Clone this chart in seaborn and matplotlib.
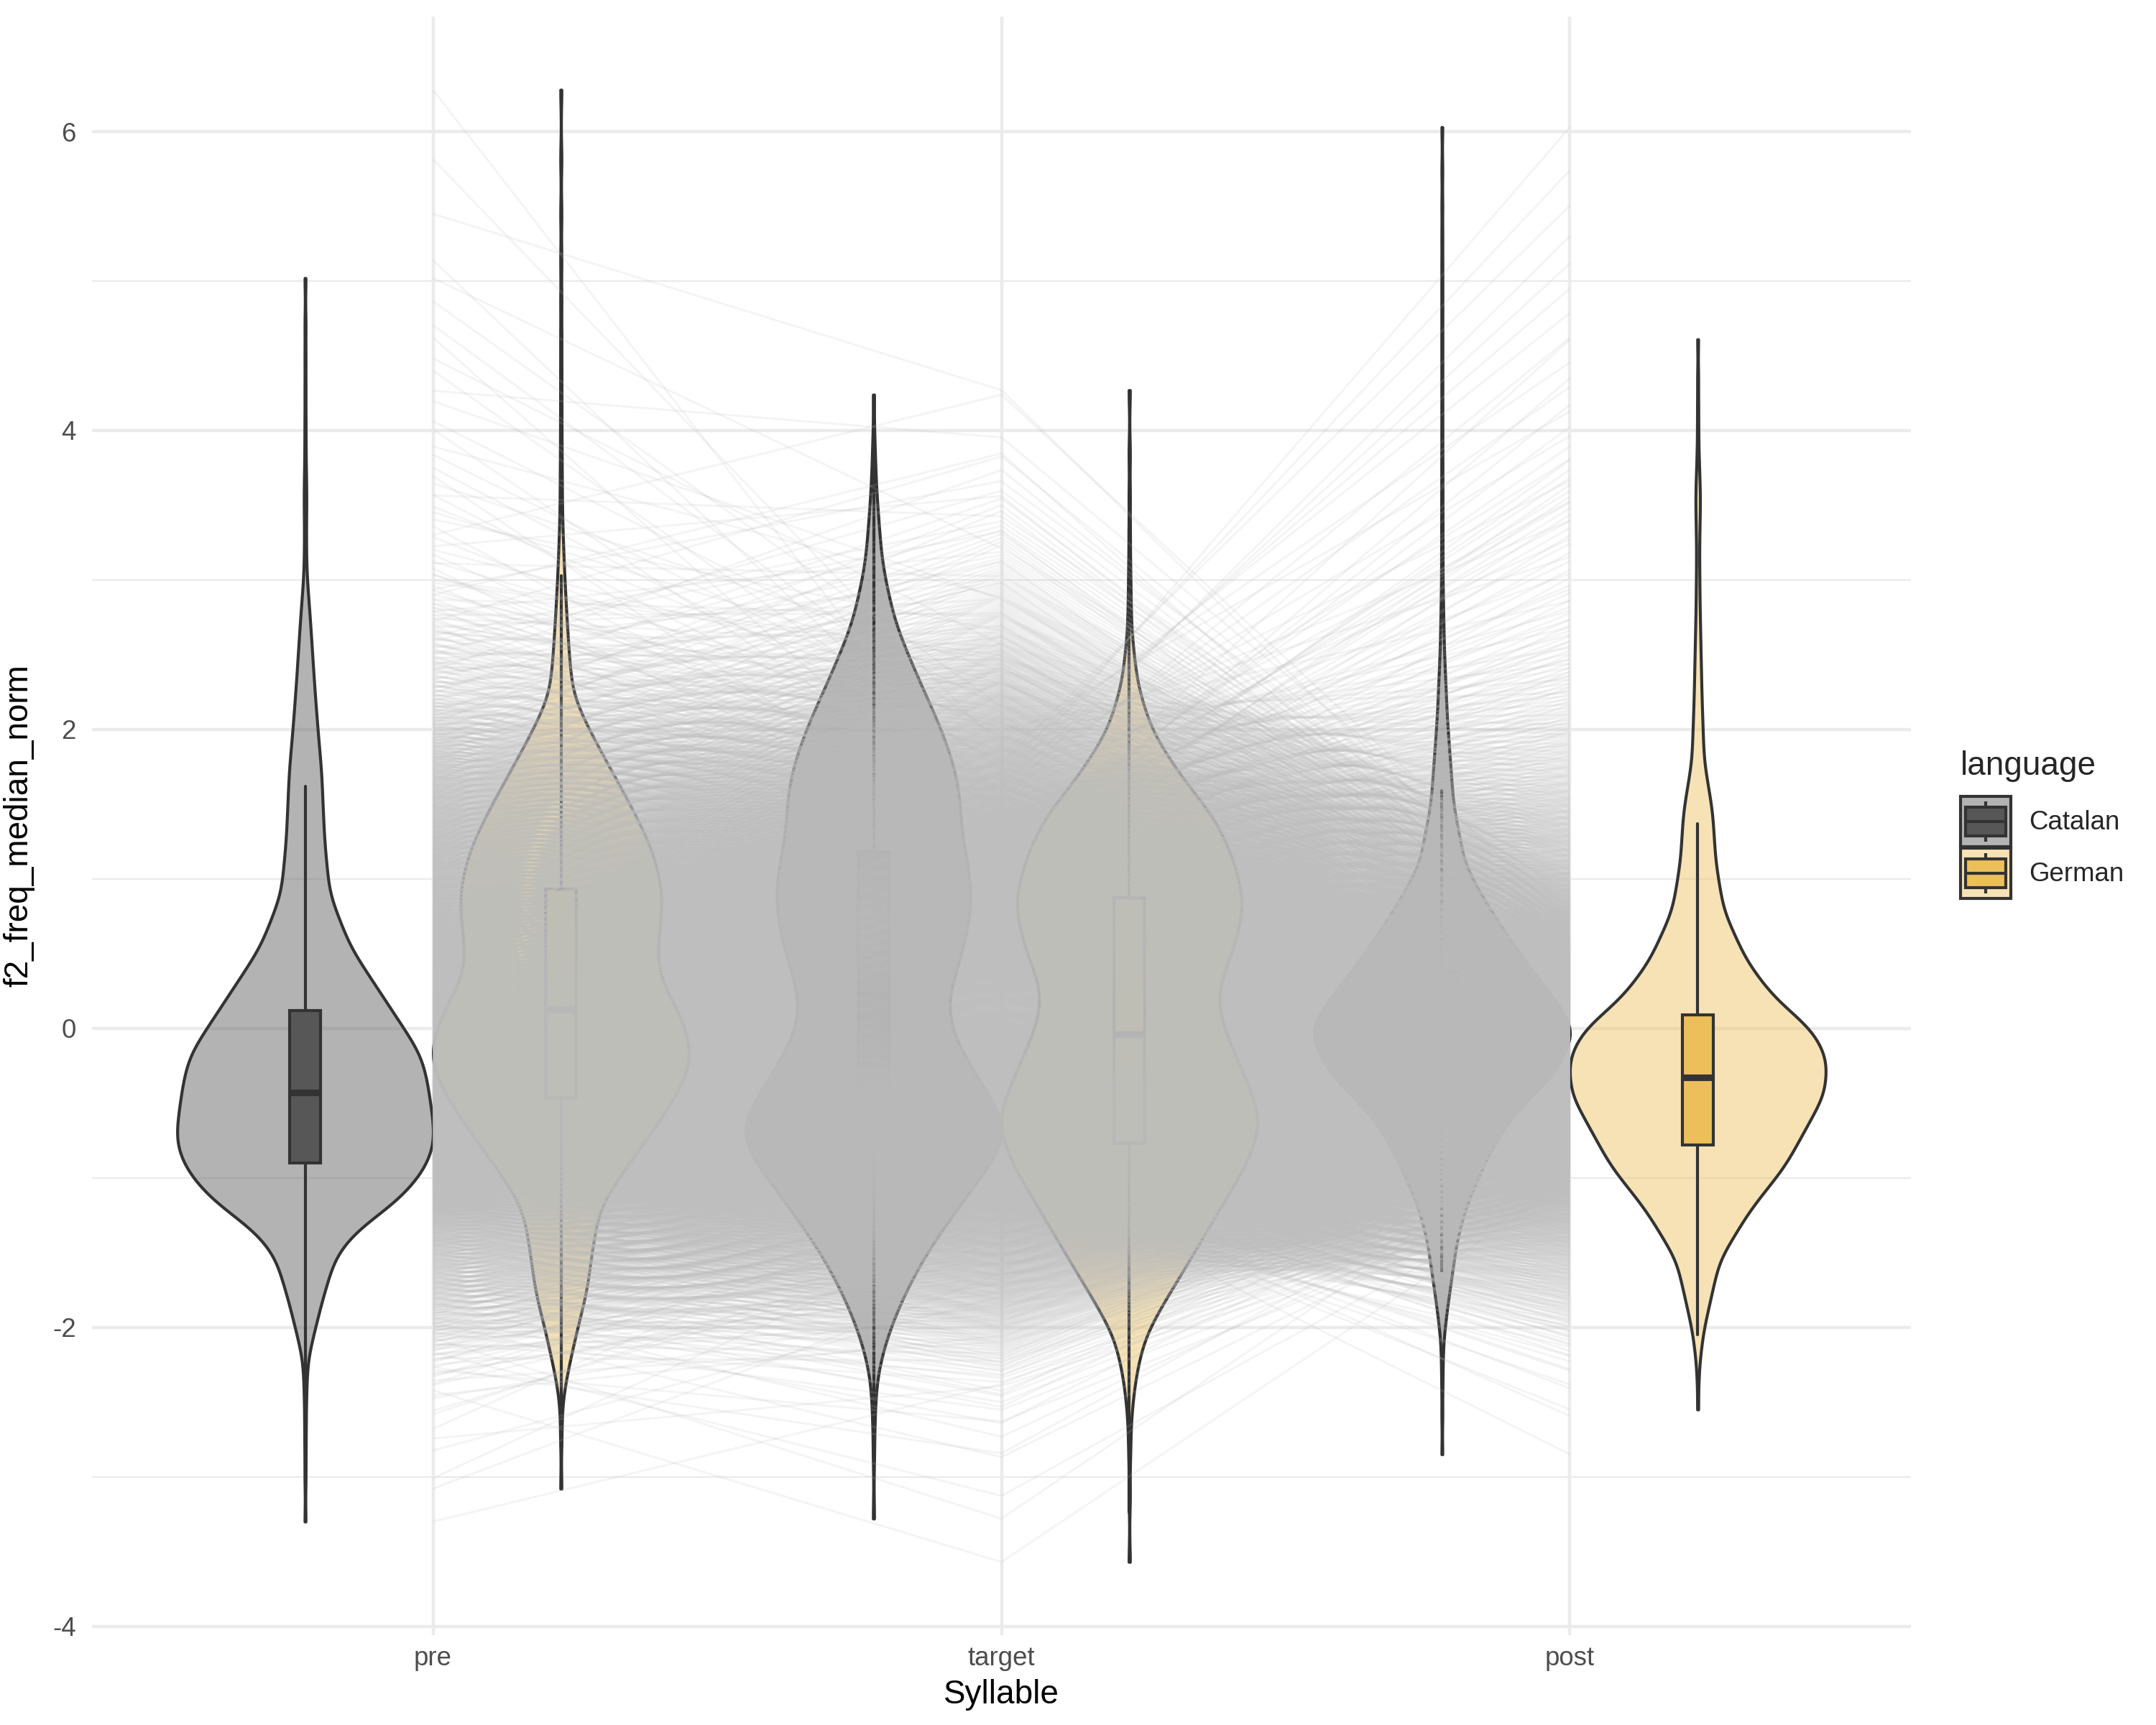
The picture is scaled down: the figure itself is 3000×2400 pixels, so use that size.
import numpy as np
import pandas as pd
import seaborn as sns
import matplotlib
matplotlib.use("Agg")
import matplotlib.pyplot as plt
from matplotlib.collections import LineCollection
from matplotlib.colors import to_rgba
from matplotlib.patches import Rectangle

# categories
syllables = ["pre", "target", "post"]
languages = ["Catalan", "German"]

# violin profiles: y value -> relative width
pre_catalan_y = [-3.30, -3.0, -2.5, -2.21, -2.05, -1.85, -1.52, -1.35, -1.16, -1.0, -0.9, -0.75, -0.55, -0.33,
                 -0.17, 0.0, 0.33, 0.55, 0.72, 0.9, 1.0, 1.25, 1.5, 1.71, 2.0, 2.3, 2.5, 2.75, 3.0, 3.1,
                 3.35, 3.55, 3.8, 4.2, 4.6, 5.02]
pre_catalan_w = [1, 2, 4, 10, 35, 65, 125, 210, 380, 470, 510, 540, 525, 505,
                 480, 410, 275, 185, 145, 100, 95, 80, 73, 68, 52, 38, 30, 20, 8, 5,
                 4, 6, 3, 2, 2, 1]

pre_german_y = [-3.08, -2.8, -2.5, -2.31, -2.0, -1.76, -1.5, -1.2, -0.9, -0.6, -0.35, -0.2, -0.01, 0.2,
                0.33, 0.51, 0.75, 0.94, 1.19, 1.44, 1.74, 1.98, 2.23, 2.45, 2.7, 3.0, 3.2, 3.45, 4.0,
                5.0, 6.28]
pre_german_w = [1, 2, 5, 25, 67, 105, 125, 155, 275, 410, 500, 532, 510, 450,
                400, 388, 408, 410, 372, 300, 200, 120, 48, 35, 25, 15, 10, 5, 3,
                2, 1]

target_catalan_y = [-3.28, -2.8, -2.36, -2.1, -1.8, -1.5, -1.14, -0.83, -0.66, -0.53, -0.28, -0.03, 0.18,
                    0.53, 0.81, 1.04, 1.3, 1.5, 1.7, 2.0, 2.35, 2.71, 3.11, 3.62, 4.0, 4.24]
target_catalan_w = [1, 2, 10, 45, 115, 210, 360, 500, 535, 490, 395, 310, 290,
                    355, 390, 383, 348, 345, 330, 270, 175, 85, 33, 10, 3, 1]

target_german_y = [-3.57, -3.0, -2.6, -2.33, -2.07, -1.87, -1.61, -1.25, -0.88, -0.62, -0.36, -0.05, 0.16,
                   0.32, 0.53, 0.84, 1.15, 1.42, 1.68, 1.99, 2.3, 2.66, 3.2, 3.8, 4.27]
target_german_w = [1, 2, 7, 25, 60, 125, 220, 348, 480, 530, 475, 390, 352,
                   365, 420, 462, 415, 338, 210, 90, 32, 8, 3, 2, 1]

post_catalan_y = [-2.85, -2.4, -2.1, -1.88, -1.41, -1.17, -1.06, -0.83, -0.59, -0.30, -0.02, 0.16, 0.45,
                  0.80, 0.86, 1.09, 1.5, 2.08, 2.55, 3.0, 4.0, 5.0, 6.03]
post_catalan_w = [1, 2, 5, 20, 60, 100, 130, 190, 275, 450, 530, 465, 330,
                  190, 170, 92, 45, 20, 8, 3, 2, 2, 1]

post_german_y = [-2.55, -2.27, -2.03, -1.55, -1.21, -0.92, -0.68, -0.44, -0.2, -0.01, 0.21, 0.45, 0.79,
                 1.12, 1.45, 1.79, 2.22, 2.84, 3.2, 3.56, 3.9, 4.3, 4.61]
post_german_w = [1, 5, 22, 88, 215, 358, 438, 520, 530, 470, 310, 200, 105,
                 72, 60, 25, 16, 8, 6, 10, 3, 2, 1]

# boxplot statistics (pre, target, post)
catalan_q1 = [-0.90, -0.70, -0.42]
catalan_med = [-0.43, 0.22, -0.02]
catalan_q3 = [0.12, 1.18, 0.38]
catalan_lo = [-2.43, -3.28, -1.62]
catalan_hi = [1.62, 4.00, 1.59]

german_q1 = [-0.47, -0.77, -0.78]
german_med = [0.13, -0.04, -0.33]
german_q3 = [0.93, 0.875, 0.09]
german_lo = [-2.57, -3.24, -2.05]
german_hi = [3.03, 3.34, 1.37]

N_TOKENS = 2400

violin_colors = {"Catalan": "#575757", "German": "#EDBF5B"}
dark = "#333333"


def expand(y_pts, w_pts, n=N_TOKENS):
    # turn a read-off density profile into token values (inverse cdf)
    grid = np.linspace(y_pts[0], y_pts[-1], 5000)
    dens = np.interp(grid, y_pts, w_pts)
    cdf = np.cumsum(dens)
    cdf = (cdf - cdf[0]) / (cdf[-1] - cdf[0])
    return np.interp(np.linspace(0, 1, n), cdf, grid)


def loose_ranks(n, spread, phase):
    # fixed low-discrepancy rank shift, so token lines cross without seams
    i = np.arange(n)
    key = i / n + spread * (((i * 0.6180339887 + phase) % 1.0) - 0.5)
    return np.argsort(np.argsort(key))


profiles = {
    ("pre", "Catalan"): (pre_catalan_y, pre_catalan_w),
    ("pre", "German"): (pre_german_y, pre_german_w),
    ("target", "Catalan"): (target_catalan_y, target_catalan_w),
    ("target", "German"): (target_german_y, target_german_w),
    ("post", "Catalan"): (post_catalan_y, post_catalan_w),
    ("post", "German"): (post_german_y, post_german_w),
}

tokens = {key: expand(*val) for key, val in profiles.items()}

rows = []
for (syl, lang), vals in tokens.items():
    rows.append(pd.DataFrame({"syllable": syl, "language": lang, "f2_freq_median_norm": vals}))
df = pd.concat(rows, ignore_index=True)

# theme
sns.set_style("white")
plt.rcParams["font.family"] = ["Liberation Sans", "DejaVu Sans"]
plt.rcParams["axes.unicode_minus"] = False

fig = plt.figure(figsize=(10, 8), dpi=300)
ax = fig.add_axes([128 / 3000, 1 - 2275 / 2400, (2659 - 128) / 3000, (2275 - 23) / 2400])

sns.violinplot(data=df, x="syllable", y="f2_freq_median_norm", hue="language",
               order=syllables, hue_order=languages, palette=violin_colors,
               width=0.9, dodge=True, density_norm="width", cut=0, inner=None,
               bw_adjust=0.45, gridsize=400, saturation=1, linewidth=1.0,
               linecolor=dark, legend=False, ax=ax)

for coll in ax.collections:
    fc = coll.get_facecolor()[0]
    coll.set_facecolor(to_rgba(fc, 0.45))
    coll.set_zorder(1)

# boxes
offsets = {"Catalan": -0.225, "German": 0.225}
box_stats = {
    "Catalan": (catalan_q1, catalan_med, catalan_q3, catalan_lo, catalan_hi),
    "German": (german_q1, german_med, german_q3, german_lo, german_hi),
}
for lang in languages:
    q1, med, q3, lo, hi = box_stats[lang]
    stats = [dict(q1=q1[i], med=med[i], q3=q3[i], whislo=lo[i], whishi=hi[i], fliers=[])
             for i in range(len(syllables))]
    pos = [i + offsets[lang] for i in range(len(syllables))]
    ax.bxp(stats, positions=pos, widths=0.055, patch_artist=True, showfliers=False,
           showcaps=False, manage_ticks=False,
           boxprops=dict(facecolor=violin_colors[lang], edgecolor=dark, linewidth=1.0, zorder=2),
           medianprops=dict(color=dark, linewidth=2.2, zorder=2.1, solid_capstyle="butt"),
           whiskerprops=dict(color=dark, linewidth=1.0, zorder=2))

# token lines across syllables
xs = np.arange(len(syllables))
for k, lang in enumerate(languages):
    phase = 0.13 + 0.41 * k
    pre = tokens[("pre", lang)]
    tgt = tokens[("target", lang)][loose_ranks(N_TOKENS, 0.35, phase)]
    post = tokens[("post", lang)][loose_ranks(N_TOKENS, -0.3, phase)]
    ys = np.column_stack([pre, tgt, post])
    segs = np.stack([np.broadcast_to(xs, ys.shape), ys], axis=-1)
    lc = LineCollection(segs, colors="#BEBEBE", alpha=0.16, linewidths=0.7, zorder=3)
    ax.add_collection(lc)

# axes styling
ax.set_xlim(-0.6, 2.6)
ax.set_ylim(-4.06, 6.77)
ax.set_xticks(xs, syllables)
ax.set_yticks(np.arange(-4, 7, 2))
ax.set_yticks(np.arange(-3, 6, 2), minor=True)
ax.set_axisbelow(True)
ax.grid(which="major", color="#EBEBEB", linewidth=1.07)
ax.grid(which="minor", axis="y", color="#EBEBEB", linewidth=0.53)
ax.tick_params(axis="both", which="both", length=0, labelsize=8.8, labelcolor="#4D4D4D")
ax.tick_params(axis="x", pad=3.6)
ax.tick_params(axis="y", pad=5.3)
for sp in ax.spines.values():
    sp.set_visible(False)

ax.set_xlabel("Syllable", fontsize=11, color="black")
ax.set_ylabel("f2_freq_median_norm", fontsize=11, color="black")
ax.xaxis.set_label_coords(0.5, (2275 - 2336) / (2275 - 23))
ax.xaxis.label.set_verticalalignment("top")
ax.yaxis.set_label_coords((48 - 128) / (2659 - 128), 0.5)

# legend, drawn as ggplot-style key glyphs
fig.text(2728 / 3000, 1 - 1066 / 2400, "language", fontsize=11, ha="left", va="center")
key_tops = [1108, 1180]
for lang, top in zip(languages, key_tops):
    kax = fig.add_axes([2728 / 3000, 1 - (top + 70) / 2400, 70 / 3000, 70 / 2400])
    kax.set_xlim(0, 1)
    kax.set_ylim(0, 1)
    kax.axis("off")
    kax.add_patch(Rectangle((0, 0), 1, 1, facecolor=to_rgba(violin_colors[lang], 0.45),
                            edgecolor=dark, linewidth=1.0, clip_on=False))
    kax.add_patch(Rectangle((0.1, 0.22), 0.8, 0.56, facecolor=violin_colors[lang],
                            edgecolor=dark, linewidth=1.0, clip_on=False))
    kax.plot([0.1, 0.9], [0.5, 0.5], color=dark, linewidth=1.0, solid_capstyle="butt")
    kax.plot([0.5, 0.5], [0.78, 0.9], color=dark, linewidth=1.0, solid_capstyle="butt")
    kax.plot([0.5, 0.5], [0.1, 0.22], color=dark, linewidth=1.0, solid_capstyle="butt")
    fig.text(2823 / 3000, 1 - (top + 36) / 2400, lang, fontsize=8.8, ha="left", va="center")

fig.savefig("out.png", dpi=300)
